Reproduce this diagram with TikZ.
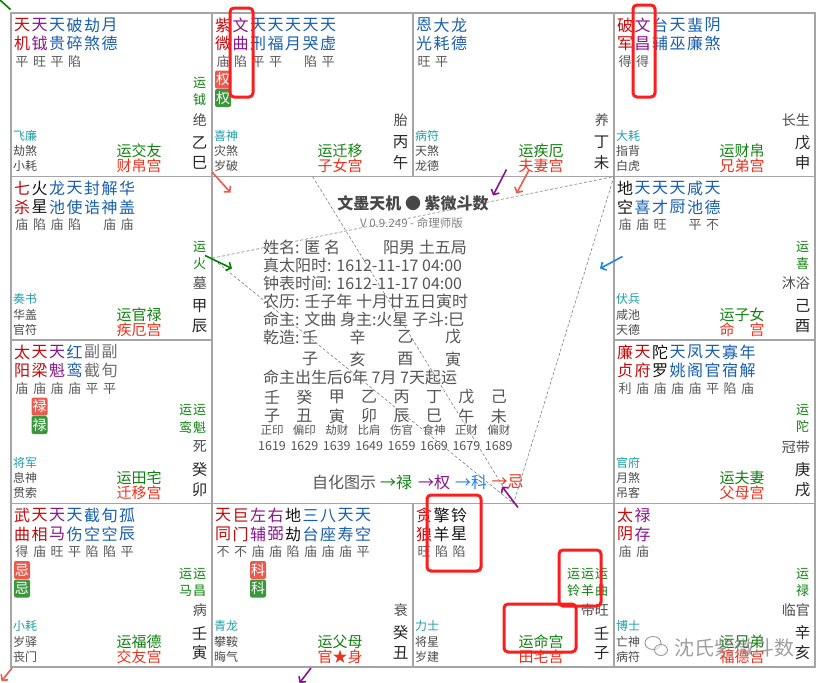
\documentclass[tikz,border=0pt]{standalone}
\usepackage{fontspec}
\setmainfont{Noto Sans CJK SC}
\usetikzlibrary{arrows.meta}

\definecolor{zhuhong}{RGB}{195,10,10}
\definecolor{fupurple}{RGB}{135,20,140}
\definecolor{xblue}{RGB}{25,95,175}
\definecolor{heixing}{RGB}{20,20,20}
\definecolor{fugray}{RGB}{110,110,110}
\definecolor{liangray}{RGB}{90,90,90}
\definecolor{shenteal}{RGB}{30,160,170}
\definecolor{zagray}{RGB}{75,75,75}
\definecolor{yungreen}{RGB}{15,130,15}
\definecolor{gonghong}{RGB}{235,50,30}
\definecolor{huared}{RGB}{232,92,80}
\definecolor{huagreen}{RGB}{60,150,60}
\definecolor{infogray}{RGB}{85,85,85}
\definecolor{kuang}{RGB}{165,165,165}
\definecolor{hongkuang}{RGB}{250,30,30}
\definecolor{kehua}{RGB}{30,130,230}

% stars of one palace: top/bottom/brightness/colour
\newcommand\xingyao[2]{%
  \foreach \xa/\xb/\xl/\xc [count=\i from 0] in {#2} {
    \node[xing,text=\xc] (#1-a\i) at (11+17.5*\i,12) {\xa};
    \node[xing,text=\xc] (#1-b\i) at (11+17.5*\i,30.5) {\xb};
    \node[liang] (#1-l\i) at (11+17.5*\i,48.5) {\xl};
  }}
% yun stars, listed from the right
\newcommand\yunyao[2]{%
  \foreach \q [count=\j from 0] in {#2} {
    \node[yunx] (#1-ya\j) at (188.5-14*\j,70) {运};
    \node[yunx] (#1-yb\j) at (188.5-14*\j,87) {\q};
  }}
% sihua badges under one column
\newcommand\sihua[3]{%
  \node[huabox,fill=huared] (#1-h1) at (11+17.5*#2,66.5) {#3};
  \node[huabox,fill=huagreen] (#1-h2) at (11+17.5*#2,85) {#3};}
% lower part of a palace
\newcommand\gong[9]{%
  \node[changsheng,anchor=east] (#1-cs) at (196,107) {#2};
  \node[ganzhi] (#1-gan) at (188.5,129.5) {#3};
  \node[ganzhi] (#1-zhi) at (188.5,149.5) {#4};
  \node[boshi,anchor=west] (#1-bs) at (2,122.5) {#5};
  \node[zaxing,anchor=west] (#1-za) at (2,138) {#6};
  \node[zaxing,anchor=west] (#1-zb) at (2,153) {#7};
  \node[yungong] (#1-yg) at (128,138) {#8};
  \node[gongming] (#1-gm) at (128,153) {#9};}

\begin{document}
\begin{tikzpicture}[x=1pt,y=-1pt,>={Straight Barb[length=4pt,width=9pt]},
  xing/.style={font=\fontsize{16}{16}\selectfont,inner sep=0pt},
  liang/.style={font=\fontsize{13}{13}\selectfont,text=liangray,inner sep=0pt},
  yunx/.style={font=\fontsize{13}{13}\selectfont,text=yungreen,inner sep=0pt},
  huabox/.style={rounded corners=2pt,minimum width=16pt,minimum height=18pt,inner sep=0pt,text=white,font=\fontsize{14}{14}\selectfont},
  changsheng/.style={font=\fontsize{14}{14}\selectfont,text=zagray,inner sep=0pt},
  ganzhi/.style={font=\fontsize{15.5}{15.5}\selectfont,text=black!85,inner sep=0pt},
  boshi/.style={font=\fontsize{12}{12}\selectfont,text=shenteal,inner sep=0pt},
  zaxing/.style={font=\fontsize{12}{12}\selectfont,text=zagray,inner sep=0pt},
  yungong/.style={font=\fontsize{15}{15}\selectfont,text=yungreen,inner sep=0pt},
  gongming/.style={font=\fontsize{15}{15}\selectfont,text=gonghong,inner sep=0pt},
  info/.style={font=\fontsize{16}{16}\selectfont,text=infogray,inner sep=0pt},
  shishen/.style={font=\fontsize{11.5}{11.5}\selectfont,text=infogray,inner sep=0pt},
  nianfen/.style={font=\fontsize{12.5}{12.5}\selectfont,text=infogray,inner sep=0pt},
  kuangxian/.style={draw=kuang,line width=1.2pt},
  sanfang/.style={draw=gray,dashed,dash pattern=on 3pt off 2pt,line width=.6pt},
  zihua/.style={->,line width=1.6pt},
  hongbox/.style={draw=hongkuang,line width=3pt,rounded corners=4pt}]
\useasboundingbox (0,0) rectangle (820,683);
\fill[white] (0,0) rectangle (820,683);

% grid
\draw[kuangxian] (11,13) rectangle (815,667);
\draw[kuangxian] (11,176.5) -- (815,176.5) (11,503.5) -- (815,503.5)
  (11,340) -- (212,340) (614,340) -- (815,340)
  (212,13) -- (212,667) (614,13) -- (614,667)
  (413,13) -- (413,176.5) (413,503.5) -- (413,667);

% top row
\begin{scope}[shift={(11,13)}]
\xingyao{si}{天/机/平/zhuhong, 天/钺/旺/fupurple, 天/贵/平/xblue, 破/碎/陷/xblue, 劫/煞//xblue, 月/德//xblue}
\yunyao{si}{钺}
\gong{si}{绝}{乙}{巳}{飞廉}{劫煞}{小耗}{运交友}{财帛宫}
\end{scope}
\begin{scope}[shift={(212,13)}]
\xingyao{wu}{紫/微/庙/zhuhong, 文/曲/陷/fupurple, 天/刑/平/xblue, 天/福/平/xblue, 天/月//xblue, 天/哭/陷/xblue, 天/虚/平/xblue}
\sihua{wu}{0}{权}
\gong{wu}{胎}{丙}{午}{喜神}{灾煞}{岁破}{运迁移}{子女宫}
\end{scope}
\begin{scope}[shift={(413,13)}]
\xingyao{wei}{恩/光/旺/xblue, 大/耗/平/xblue, 龙/德//xblue}
\gong{wei}{养}{丁}{未}{病符}{天煞}{龙德}{运疾厄}{夫妻宫}
\end{scope}
\begin{scope}[shift={(614,13)}]
\xingyao{shen}{破/军/得/zhuhong, 文/昌/得/fupurple, 台/辅//xblue, 天/巫//xblue, 蜚/廉//xblue, 阴/煞//xblue}
\gong{shen}{长生}{戊}{申}{大耗}{指背}{白虎}{运财帛}{兄弟宫}
\end{scope}

% middle rows
\begin{scope}[shift={(11,176.5)}]
\xingyao{chen}{七/杀/庙/zhuhong, 火/星/陷/heixing, 龙/池/庙/xblue, 天/使/陷/xblue, 封/诰//xblue, 解/神/庙/xblue, 华/盖/庙/xblue}
\yunyao{chen}{火}
\gong{chen}{墓}{甲}{辰}{奏书}{华盖}{官符}{运官禄}{疾厄宫}
\end{scope}
\begin{scope}[shift={(614,176.5)}]
\xingyao{you}{地/空/庙/heixing, 天/喜/庙/xblue, 天/才/旺/xblue, 天/厨//xblue, 咸/池/平/xblue, 天/德/不/xblue}
\yunyao{you}{喜}
\gong{you}{沐浴}{己}{酉}{伏兵}{咸池}{天德}{运子女}{命　宫}
\end{scope}
\begin{scope}[shift={(11,340)}]
\xingyao{mao}{太/阳/庙/zhuhong, 天/梁/庙/zhuhong, 天/魁/庙/fupurple, 红/鸾/庙/xblue, 副/截/平/fugray, 副/旬/平/fugray}
\sihua{mao}{1}{禄}
\yunyao{mao}{魁,鸾}
\gong{mao}{死}{癸}{卯}{将军}{息神}{贯索}{运田宅}{迁移宫}
\end{scope}
\begin{scope}[shift={(614,340)}]
\xingyao{xu}{廉/贞/利/zhuhong, 天/府/庙/zhuhong, 陀/罗/庙/heixing, 天/姚/庙/xblue, 凤/阁/庙/xblue, 天/官/平/xblue, 寡/宿/陷/xblue, 年/解/庙/xblue}
\yunyao{xu}{陀}
\gong{xu}{冠带}{庚}{戌}{官府}{月煞}{吊客}{运夫妻}{父母宫}
\end{scope}

% bottom row
\begin{scope}[shift={(11,503.5)}]
\xingyao{yin}{武/曲/得/zhuhong, 天/相/庙/zhuhong, 天/马/旺/fupurple, 天/伤/平/xblue, 截/空/陷/xblue, 旬/空/陷/xblue, 孤/辰/平/xblue}
\sihua{yin}{0}{忌}
\yunyao{yin}{昌,马}
\gong{yin}{病}{壬}{寅}{小耗}{岁驿}{丧门}{运福德}{交友宫}
\end{scope}
\begin{scope}[shift={(212,503.5)}]
\xingyao{chou}{天/同/不/zhuhong, 巨/门/不/zhuhong, 左/辅/庙/fupurple, 右/弼/庙/fupurple, 地/劫/陷/heixing, 三/台/庙/xblue, 八/座/庙/xblue, 天/寿/庙/xblue, 天/空/平/xblue}
\sihua{chou}{2}{科}
\gong{chou}{衰}{癸}{丑}{青龙}{攀鞍}{晦气}{运父母}{官★身}
\end{scope}
\begin{scope}[shift={(413,503.5)}]
\xingyao{zi}{贪/狼/旺/zhuhong, 擎/羊/陷/heixing, 铃/星/陷/heixing}
\yunyao{zi}{曲,羊,铃}
\gong{zi}{帝旺}{壬}{子}{力士}{将星}{岁建}{运命宫}{田宅宫}
\end{scope}
\begin{scope}[shift={(614,503.5)}]
\xingyao{hai}{太/阴/庙/zhuhong, 禄/存/庙/fupurple}
\yunyao{hai}{禄}
\gong{hai}{临官}{辛}{亥}{博士}{亡神}{病符}{运兄弟}{福德宫}
\end{scope}

% centre
\node[font=\bfseries\fontsize{16}{16}\selectfont,text=black!72,inner sep=0pt] (biaoti) at (413,203) {文墨天机 ● 紫微斗数};
\node[font=\fontsize{11.5}{11.5}\selectfont,text=gray,inner sep=0pt,anchor=east] (banben) at (463,223) {V 0.9.249 - 命理师版};
\node[info,anchor=west] (xingming) at (263,247) {姓名: 匿 名};
\node[info,anchor=west] (ju) at (383,247) {阳男 土五局};
\node[info,anchor=west] (zhentai) at (263,265) {真太阳时: 1612-11-17 04:00};
\node[info,anchor=west] (zhongbiao) at (263,283) {钟表时间: 1612-11-17 04:00};
\node[info,anchor=west] (nongli) at (263,301) {农历: 壬子年 十月廿五日寅时};
\node[info,anchor=west] (mingzhu) at (263,319) {命主: 文曲 身主:火星 子斗:巳};
\node[info,anchor=west] (qianzao) at (263,337) {乾造:};
\foreach \g/\z [count=\i from 0] in {壬/子, 辛/亥, 乙/酉, 戊/寅} {
  \node[info] (qg\i) at (310+47.7*\i,337) {\g};
  \node[info] (qz\i) at (310+47.7*\i,359) {\z};
}
\node[info,anchor=west] (qiyun) at (263,377) {命主出生后6年 7月 7天起运};
\foreach \g/\z/\s/\n [count=\i from 0] in {壬/子/正印/1619, 癸/丑/偏印/1629, 甲/寅/劫财/1639, 乙/卯/比肩/1649, 丙/辰/伤官/1659, 丁/巳/食神/1669, 戊/午/正财/1679, 己/未/偏财/1689} {
  \node[info] (dg\i) at (272+32.4*\i,397) {\g};
  \node[info] (dz\i) at (272+32.4*\i,416) {\z};
  \node[shishen] (ds\i) at (272+32.4*\i,430.5) {\s};
  \node[nianfen] (dn\i) at (272+32.4*\i,446) {\n};
}
\node[info,anchor=west] (tushi) at (312,482) {自化图示};
\node[info,anchor=west,text=yungreen] (tlu) at (380,482) {→禄};
\node[info,anchor=west,text=fupurple] (tquan) at (418,482) {→权};
\node[info,anchor=west,text=kehua] (tke) at (455,482) {→科};
\node[info,anchor=west,text=gonghong] (tji) at (491.5,482) {→忌};

% sanfang sizheng
\coordinate (chenmid) at (212,258.2);
\coordinate (shenjiao) at (614,176.5);
\coordinate (wumid) at (312.5,176.5);
\coordinate (zimid) at (513.5,503.5);
\draw[sanfang] (chenmid) -- (shenjiao) -- (zimid) -- (chenmid);
\draw[sanfang] (wumid) -- (zimid);

% zihua arrows
\coordinate (r1a) at (212,172); \coordinate (r1b) at (230.5,192.5);
\coordinate (p1a) at (506.5,169.5); \coordinate (p1b) at (493,195.5);
\coordinate (r2a) at (529,170); \coordinate (r2b) at (516.5,193.5);
\coordinate (g1a) at (205,255.5); \coordinate (g1b) at (232,268.5);
\coordinate (b1a) at (622.5,256.5); \coordinate (b1b) at (600,268.5);
\coordinate (p2a) at (518,507.5); \coordinate (p2b) at (502,486.5);
\coordinate (r3a) at (12,668); \coordinate (r3b) at (1.5,681);
\coordinate (p3a) at (311,668); \coordinate (p3b) at (299.5,683);
\coordinate (g2a) at (0,0); \coordinate (g2b) at (10.5,9.5);
\draw[zihua,draw=huared] (r1a) -- (r1b);
\draw[zihua,draw=fupurple] (p1a) -- (p1b);
\draw[zihua,draw=huared] (r2a) -- (r2b);
\draw[zihua,draw=green!50!black] (g1a) -- (g1b);
\draw[zihua,draw=kehua] (b1a) -- (b1b);
\draw[zihua,draw=fupurple] (p2a) -- (p2b);
\draw[zihua,draw=huared] (r3a) -- (r3b);
\draw[zihua,draw=fupurple] (p3a) -- (p3b);
\draw[line width=1.6pt,draw=green!50!black] (g2a) -- (g2b);

% red marks
\draw[hongbox] (230,8) rectangle (253,97);
\draw[hongbox] (633,5) rectangle (655,97);
\draw[hongbox] (427,495) rectangle (481,571);
\draw[hongbox] (559,550) rectangle (601,606);
\draw[hongbox] (504,604) rectangle (576,652);

% watermark
\draw[gray!80,line width=.9pt,fill=white,fill opacity=.6] (653,643) ellipse (8 and 6.5);
\draw[gray!80,line width=.9pt,fill=white,fill opacity=.6] (661,650) ellipse (6.5 and 5.5);
\node[font=\fontsize{20}{20}\selectfont,text=gray,text opacity=.75,inner sep=0pt] (shuiyin) at (734,648) {沈氏紫微斗数};
\end{tikzpicture}
\end{document}
